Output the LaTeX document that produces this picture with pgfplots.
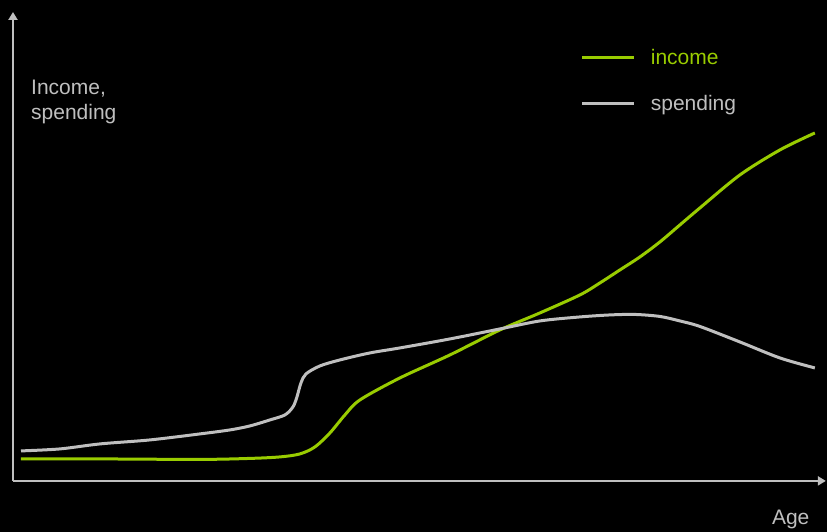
\documentclass[border=0pt]{standalone}
\usepackage{fontspec}
\setmainfont{Liberation Sans}
\usepackage{pgfplots}
\pgfplotsset{compat=1.18}
\usetikzlibrary{arrows.meta}
\definecolor{incgreen}{RGB}{153,204,0}
\definecolor{spgray}{RGB}{191,191,191}
\begin{document}
\begin{tikzpicture}
\fill[black] (-13pt,-51pt) rectangle (814pt,481pt);
\begin{axis}[
  x=1pt, y=1pt,
  anchor=south west, at={(0,0)},
  xmin=13, xmax=826, ymin=51, ymax=520,
  axis x line=bottom, axis y line=left,
  xtick=\empty, ytick=\empty,
  axis line style={draw=spgray, line width=2.3pt},
  x axis line style={-{Triangle[length=8pt,width=9pt]}},
  y axis line style={-{Triangle[length=8pt,width=9pt]}},
  clip=false,
  legend style={at={(axis cs:581,482)}, anchor=north west, draw=none, fill=none,
    inner sep=0pt, outer sep=0pt, text=spgray,
    font=\fontsize{21}{25}\selectfont, row sep=26pt, column sep=15pt,
    nodes={inner sep=0pt, text height=15pt, text depth=5pt}},
  legend cell align=left,
  legend image code/.code={\draw[#1, line width=3pt] (0pt,2.5pt) -- (52pt,2.5pt);},
]
\addplot[incgreen, line width=3pt, smooth, tension=0.5] coordinates {
(21,73)(100,73)(200,72.5)(250,73.5)(280,75)(300,78)(315,85)(330,99)(345,117)(360,132)
(400,154)(450,177)(500,202)(540,219)(580,237)(600,249)(620,262)(640,275)(660,290)(680,307)
(700,324)(740,357)(780,382)(815,399)};
\addlegendentry{\textcolor{incgreen}{income}}
\addplot[spgray, line width=3pt, smooth, tension=0.5] coordinates {
(21,81)(60,83)(100,88)(150,92)(200,98)(230,102)(250,106)(270,112)(285,117)(293,125)(297,135)(301,149)
(306,158)(320,166)(340,172)(370,179)(400,184)(450,193)(500,203)(540,211)(580,215)(610,217)(635,217.5)
(660,215.5)(680,211)(700,205.5)(740,190)(780,174)(815,164)};
\addlegendentry{spending}
\node[anchor=base west, text=spgray, font=\fontsize{21}{25}\selectfont, inner sep=0pt] at (axis cs:31,437) {Income,};
\node[anchor=base west, text=spgray, font=\fontsize{21}{25}\selectfont, inner sep=0pt] at (axis cs:31,412) {spending};
\node[anchor=base west, text=spgray, font=\fontsize{21}{25}\selectfont, inner sep=0pt] at (axis cs:772,7) {Age};
\end{axis}
\end{tikzpicture}
\end{document}
